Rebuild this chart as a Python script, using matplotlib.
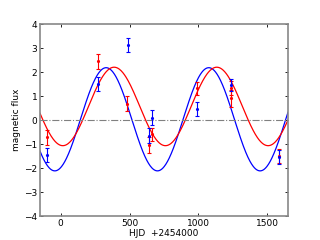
import numpy as np
import matplotlib
matplotlib.use("Agg")
import matplotlib.pyplot as plt

# observed points (HJD - 2454000), two series
t_blue = [-100, 274, 490, 643, 665, 989, 1233, 1586]
f_blue = [-1.46, 1.50, 3.12, -0.65, 0.10, 0.45, 1.46, -1.53]
e_blue = [0.31, 0.30, 0.30, 0.30, 0.30, 0.29, 0.25, 0.30]

t_red = [-100, 274, 485, 643, 665, 989, 1233, 1233, 1586]
f_red = [-0.72, 2.45, 0.67, -1.05, -0.60, 1.32, 1.33, 0.90, -1.50]
e_red = [0.31, 0.31, 0.31, 0.34, 0.28, 0.28, 0.30, 0.35, 0.30]

# sine fits: offset, amplitude, period, time of maximum
fit_blue = dict(off=0.03, amp=2.15, per=745.0, tmax=330.0)
fit_red = dict(off=0.565, amp=1.635, per=745.0, tmax=388.0)

blue = "#0000ff"
red = "#ff0000"

plt.rcParams["font.size"] = 6.5
plt.rcParams["xtick.direction"] = "in"
plt.rcParams["ytick.direction"] = "in"

fig = plt.figure(figsize=(3.2, 2.4), dpi=100)
ax = fig.add_axes([0.125, 0.1, 0.775, 0.8])

tt = np.linspace(-150, 1650, 600)
for fit, c in [(fit_blue, blue), (fit_red, red)]:
    model = fit["off"] + fit["amp"] * np.cos(2 * np.pi * (tt - fit["tmax"]) / fit["per"])
    ax.plot(tt, model, color=c, lw=0.9)

ax.axhline(0, color="gray", ls="-.", lw=0.8)

ax.errorbar(t_red, f_red, yerr=e_red, fmt=".", color=red, ms=2.5,
            elinewidth=0.8, capsize=1.5, capthick=0.8)
ax.errorbar(t_blue, f_blue, yerr=e_blue, fmt=".", color=blue, ms=2.5,
            elinewidth=0.8, capsize=1.5, capthick=0.8)

ax.set_xlim(-150, 1650)
ax.set_ylim(-4, 4)
ax.set_xticks([0, 500, 1000, 1500])
ax.set_yticks(range(-4, 5))
ax.tick_params(top=True, right=True, length=2, width=0.6, pad=2)
for s in ax.spines.values():
    s.set_color("#888888")
    s.set_linewidth(1.2)

ax.set_xlabel("HJD  +2454000", labelpad=1)
ax.set_ylabel("magnetic flux", labelpad=2)

fig.savefig("out.png", dpi=100)
